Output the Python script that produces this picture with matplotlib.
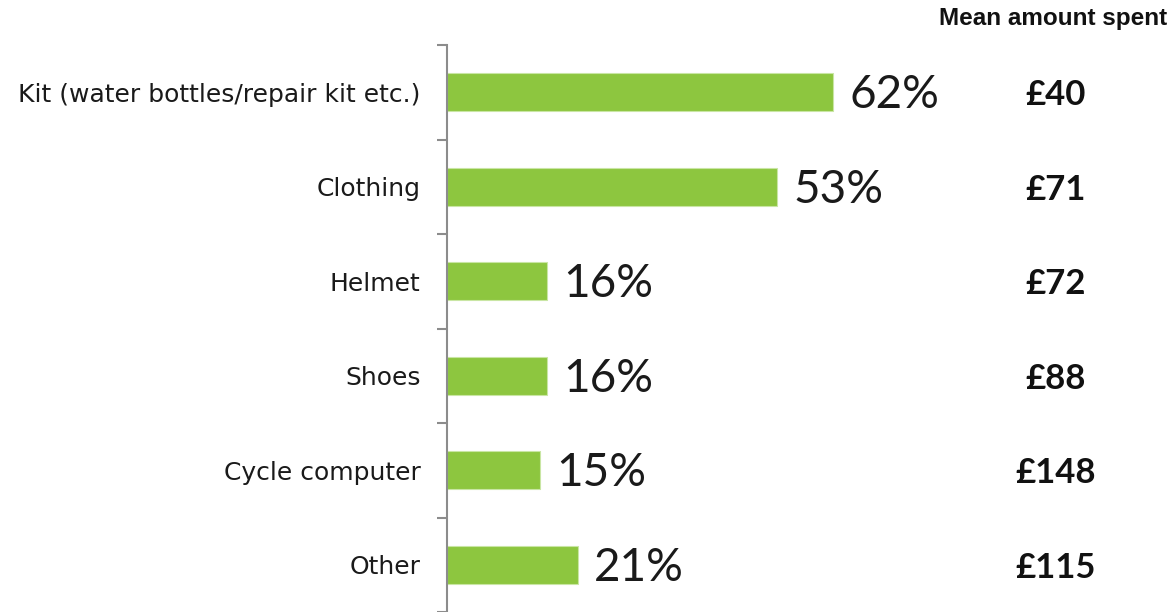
import matplotlib
matplotlib.use("Agg")
import matplotlib.pyplot as plt
from matplotlib.transforms import blended_transform_factory

categories = ["Kit (water bottles/repair kit etc.)", "Clothing", "Helmet",
              "Shoes", "Cycle computer", "Other"]
shares = [62, 53, 16, 16, 15, 21]
mean_spent = ["£40", "£71", "£72", "£88", "£148", "£115"]

W, H = 1172, 612
fig = plt.figure(figsize=(W / 100, H / 100), dpi=100)
ax = fig.add_axes([447 / W, 0, 1 - 447 / W, 1 - 45 / H])

green = "#8DC63F"
pos = list(range(len(categories)))
ax.barh(pos, shares, height=0.40, color=green, edgecolor="#c9e6a4", linewidth=0.8)

ax.set_xlim(0, 116.4)
ax.set_ylim(len(categories) - 0.5, -0.5)

for s in ["top", "right", "bottom"]:
    ax.spines[s].set_visible(False)
ax.spines["left"].set_color("#8c8c8c")
ax.spines["left"].set_linewidth(1.5)
ax.set_xticks([])

ax.set_yticks(pos)
ax.set_yticklabels(categories, family="DejaVu Sans", fontsize=18, color="#1a1a1a")
ax.tick_params(axis="y", which="major", length=0, pad=19)
ax.set_yticks([p - 0.5 for p in pos] + [len(categories) - 0.5], minor=True)
ax.tick_params(axis="y", which="minor", length=7, width=1.5, color="#8c8c8c")

for p, v in zip(pos, shares):
    ax.text(v + 2.6, p + 0.03, f"{v}%", va="center", ha="left",
            family="Lato", fontsize=33, color="#1a1a1a")

tr = blended_transform_factory(fig.transFigure, ax.transData)
for p, m in zip(pos, mean_spent):
    ax.text(1056 / W, p + 0.03, m, transform=tr, ha="center", va="center",
            family="Lato", fontweight="bold", fontsize=25, color="#111111")

fig.text(1167 / W, 1 - 19 / H, "Mean amount spent", ha="right", va="center",
         family="Liberation Sans", fontweight="bold", fontsize=17.5, color="#111111")

fig.savefig("out.png", dpi=100)
